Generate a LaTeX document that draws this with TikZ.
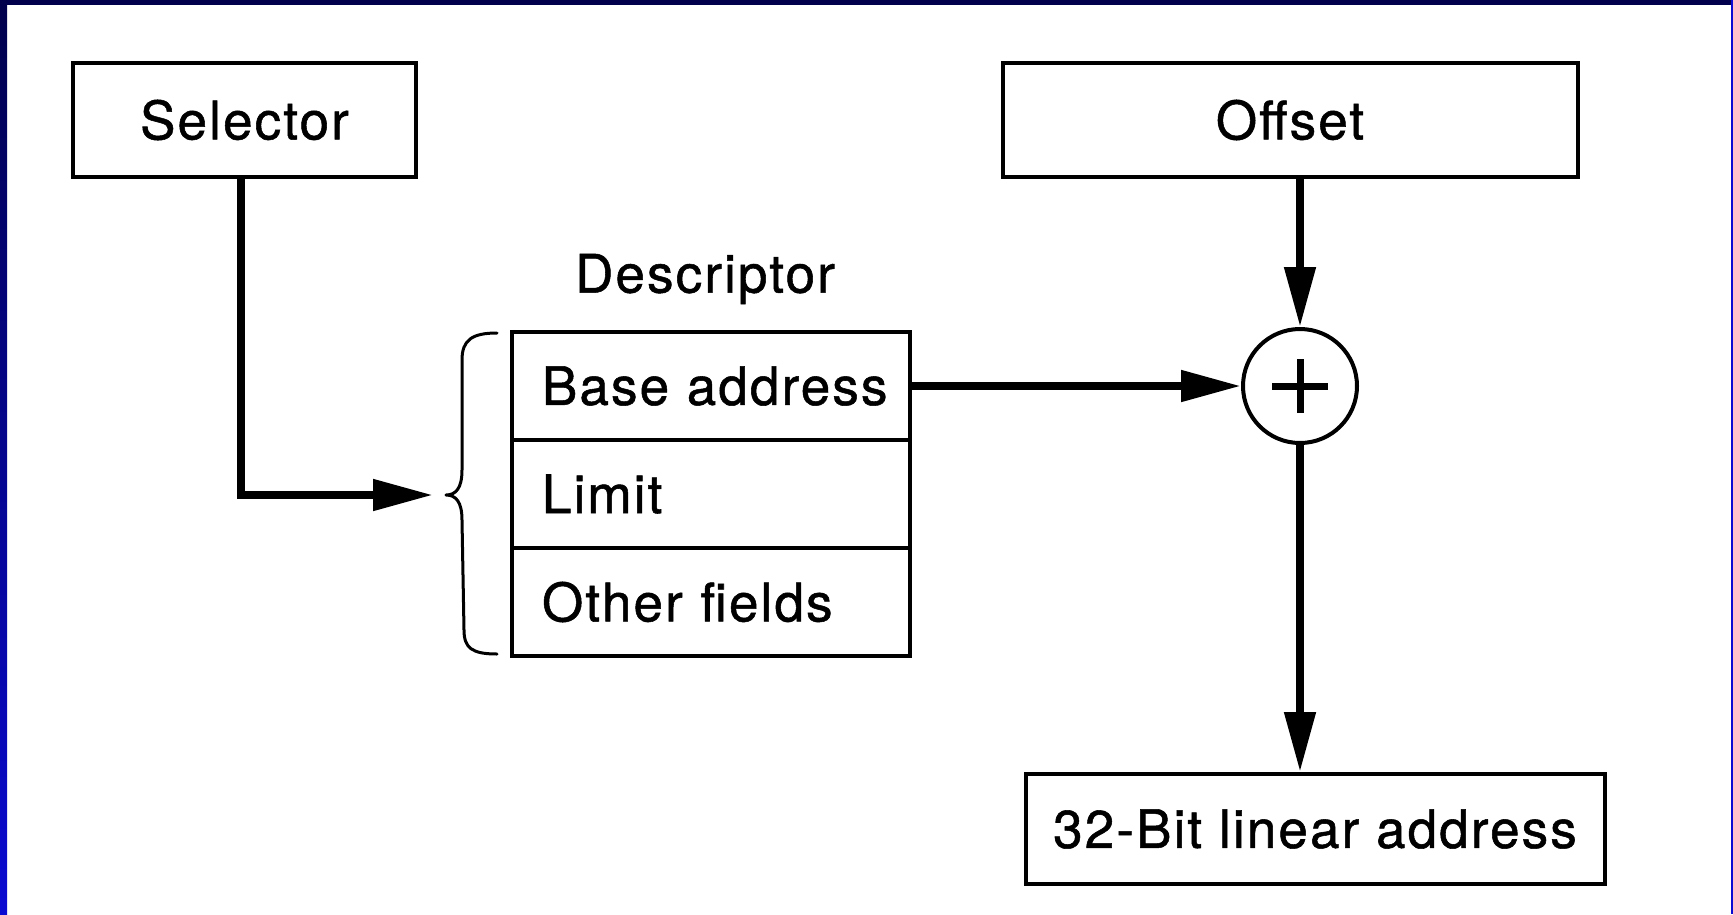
\documentclass[tikz,border=0pt]{standalone}
\usepackage{fontspec}
\setmainfont[LetterSpace=4,FakeBold=1]{TeX Gyre Heros}
\usetikzlibrary{arrows.meta}
\definecolor{navyA}{HTML}{00004C}
\definecolor{blueB}{HTML}{0A0AD2}
\begin{document}
\begin{tikzpicture}[x=1pt,y=-1pt,
  lbl/.style={font=\fontsize{53}{62}\selectfont, inner sep=0pt},
  box/.style={draw, line width=4pt, inner sep=0pt, font=\fontsize{53}{62}\selectfont},
  field/.style={box, minimum height=108pt, text width=338pt, inner xsep=30pt, align=left},
  conn/.style={line width=8pt, -{Triangle[length=60pt,width=30pt]}},
  brace/.style={line width=3pt, line cap=round, line join=round},
]
\useasboundingbox (0,0) rectangle (1733,914);
\fill[white] (0,0) rectangle (1733,914);
\shade[top color=navyA, bottom color=blueB] (0,0) rectangle (7,914);
\fill[navyA] (0,0) rectangle (1733,5);
\fill[blueB] (1731,0) rectangle (1733,914);

\node[box, minimum width=343pt, minimum height=114pt] (sel) at (244.5,120) {Selector};
\node[box, minimum width=575pt, minimum height=114pt] (off) at (1290,120) {Offset};
\node[lbl] (desc) at (705,279) {Descriptor};
\node[field] (f1) at (711,386) {\mbox{Base address}};
\node[field] (f2) at (711,494) {\mbox{Limit}};
\node[field] (f3) at (711,602) {\mbox{Other fields}};
\node[circle, draw, line width=4pt, minimum size=114pt, inner sep=0pt] (plus) at (1300,386) {};
\draw[line width=7pt] ([xshift=-28pt]plus.center) -- ([xshift=28pt]plus.center);
\draw[line width=7pt] ([yshift=-27pt]plus.center) -- ([yshift=27pt]plus.center);
\node[box, minimum width=579pt, minimum height=110pt] (out) at (1315,829) {32-Bit linear address};

\coordinate (brtip) at (433,495);
\draw[brace] (497,333) .. controls (472,333) and (462,340) .. (462,360) -- (462,470)
  .. controls (462,488) and (456,495) .. (446,495)
  .. controls (456,495) and (462,502) .. (462,520) -- (464,630)
  .. controls (464,648) and (472,654) .. (497,654);

\draw[conn] ([xshift=-4pt]sel.south) |- (brtip);
\draw[conn] (f1.east) -- (plus.west);
\draw[conn] (off.south -| plus.north) -- (plus.north);
\draw[conn] (plus.south) -- (plus.south |- out.north);
\end{tikzpicture}
\end{document}
